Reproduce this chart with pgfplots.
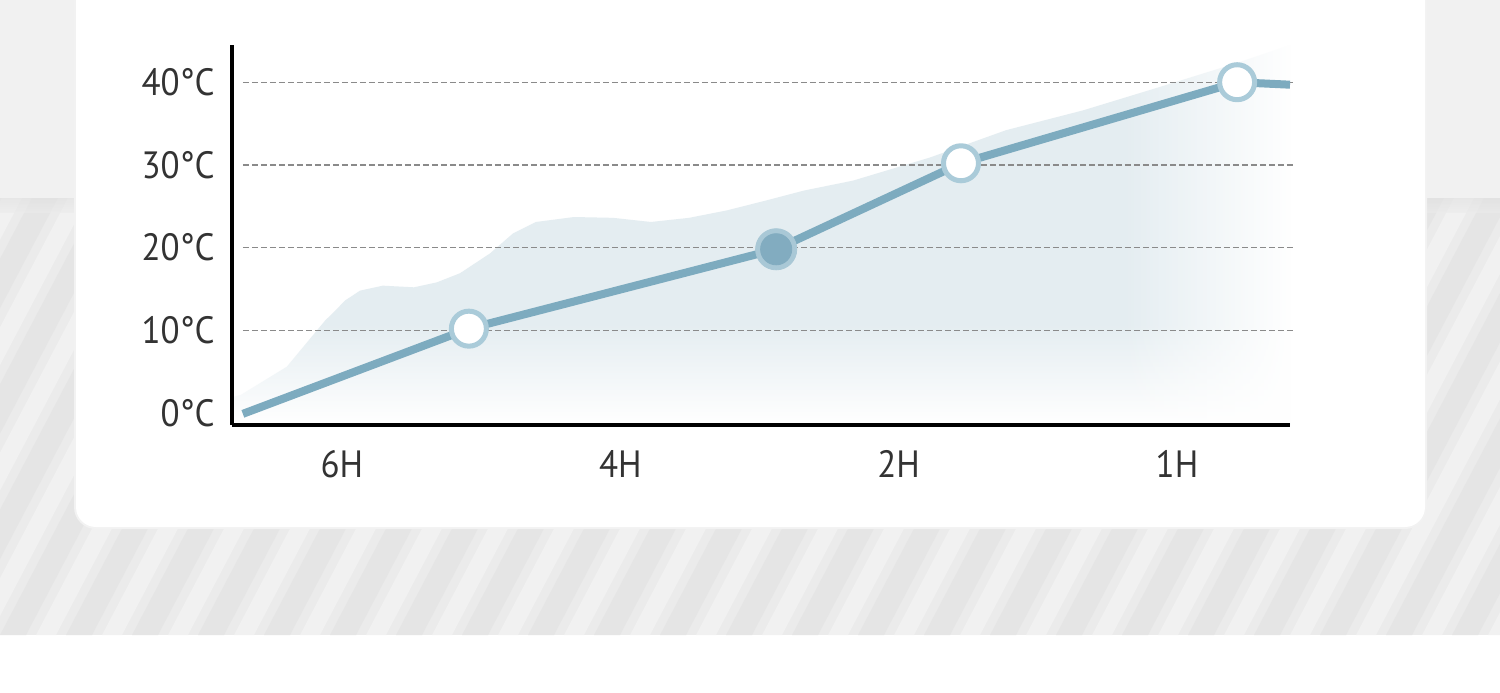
\documentclass[border=0pt]{standalone}
\usepackage{fontspec}
\setmainfont[FakeStretch=0.92]{PT Sans}
\usepackage{pgfplots}
\pgfplotsset{compat=1.18}
\usetikzlibrary{fadings}
\definecolor{bgtop}{HTML}{F1F1F1}
\definecolor{band}{HTML}{EBEBEB}
\definecolor{stripe}{HTML}{E5E5E5}
\definecolor{stripelight}{HTML}{F1F1F1}
\definecolor{areac}{HTML}{E4EDF1}
\definecolor{lineblue}{HTML}{7DABBF}
\definecolor{ringc}{HTML}{AACBD9}
\definecolor{haloc}{HTML}{A9C8D6}
\definecolor{dotc}{HTML}{82ACC0}
\definecolor{gridc}{HTML}{8A8A8A}
\definecolor{labelc}{HTML}{333333}

\pgfplotstableread{
x y
-0.395 -1.45
-0.395 1.9
-0.363 2.2
-0.198 5.6
-0.060 11.2
-0.032 12.1
0.011 13.6
0.065 14.8
0.147 15.4
0.259 15.2
0.341 15.8
0.424 16.9
0.532 19.3
0.614 21.7
0.697 23.1
0.834 23.7
0.974 23.6
1.110 23.1
1.247 23.6
1.383 24.5
1.524 25.7
1.660 26.9
1.836 28.1
2.113 30.9
2.386 34.2
2.663 36.6
2.936 39.4
3.213 42.3
3.406 44.5
3.406 -1.45
}\areatable

\pgfplotstableread{
x y
-0.356 -0.1
0.456 10.2
1.560 19.8
2.224 30.2
3.216 40.0
3.406 39.7
}\linetable

\begin{document}
\begin{tikzpicture}
\begin{scope}[x=0.5pt,y=-0.5pt]
\path[use as bounding box] (0,0) rectangle (1500,692);
\fill[white] (0,0) rectangle (1500,692);
\fill[bgtop] (0,0) rectangle (1500,198);
\fill[band] (0,198) rectangle (1500,635);
\begin{scope}
\clip (0,198) rectangle (1500,635);
\foreach \i in {-8,...,26} {
  \fill[stripe] (\i*66,635) -- ++(26,0) -- ++(230,-437) -- ++(-26,0) -- cycle;
  \fill[stripelight] (\i*66+36,635) -- ++(20,0) -- ++(230,-437) -- ++(-20,0) -- cycle;
}
\shade[top color=black!12, bottom color=band, opacity=0.6] (0,198) rectangle (1500,212);
\end{scope}
\fill[black!5, rounded corners=11] (74,-20) rectangle (1427,529);
\fill[white, rounded corners=10] (76,-20) rectangle (1425,527);
\end{scope}

\begin{axis}[
  at={(116pt,-212.5pt)}, anchor=south west,
  width=529pt, height=190pt, scale only axis,
  xmin=-0.395, xmax=3.406, ymin=-1.45, ymax=44.5,
  axis x line=bottom, axis y line=left,
  axis line style={line width=2pt, -, black},
  axis on top,
  xtick={0,1,2,3}, xticklabels={6H,4H,2H,1H},
  ytick={0,10,20,30,40}, yticklabels={0°C,10°C,20°C,30°C,40°C},
  major tick length=0pt, tick style={draw=none},
  /pgf/number format/assume math mode=true,
  ticklabel style={font=\fontsize{19}{22}\selectfont, text=labelc},
  yticklabel style={anchor=east, inner sep=0pt, xshift=-8.5pt},
  xticklabel style={anchor=north, inner sep=0pt, yshift=-12.5pt},
  clip=false,
]
\addplot[draw=none, fill=areac] table[x=x,y=y] {\areatable} -- cycle;
\fill[white, path fading=north] (axis cs:-0.40,-1.2) rectangle (axis cs:3.41,11);
\fill[white, path fading=west] (axis cs:2.80,-1.2) rectangle (axis cs:3.41,46);
\addplot[gridc, line width=0.6pt, dash pattern=on 3pt off 1.5pt] coordinates {(-0.356,10) (3.417,10)};
\addplot[gridc, line width=0.6pt, dash pattern=on 3pt off 1.5pt] coordinates {(-0.356,20) (3.417,20)};
\addplot[gridc, line width=0.6pt, dash pattern=on 3pt off 1.5pt] coordinates {(-0.356,30) (3.417,30)};
\addplot[gridc, line width=0.6pt, dash pattern=on 3pt off 1.5pt] coordinates {(-0.356,40) (3.417,40)};
\addplot[lineblue, line width=4pt, line join=round, mark=none] table[x=x,y=y] {\linetable};
\addplot[only marks, mark=*, mark size=8.75pt, mark options={fill=white, draw=ringc, line width=2.5pt}] coordinates {(0.456,10.2) (2.224,30.2) (3.216,40.0)};
\addplot[haloc, only marks, mark=*, mark size=10.3pt, mark options={fill=haloc, draw=haloc}] coordinates {(1.560,19.8)};
\addplot[dotc, only marks, mark=*, mark size=7.8pt, mark options={fill=dotc, draw=dotc}] coordinates {(1.560,19.8)};
\end{axis}
\end{tikzpicture}
\end{document}
